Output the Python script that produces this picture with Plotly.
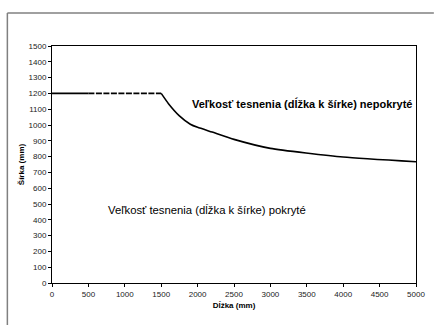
import plotly.graph_objects as go

# Seal size limits: length (mm) vs. width (mm)
flat_solid_x = [0, 500]
flat_solid_y = [1200, 1200]
flat_dash_x = [500, 1500]
flat_dash_y = [1200, 1200]
curve_x = [1500, 1600, 1750, 1900, 2000, 2200, 2500, 3000, 4000, 5000]
curve_y = [1200, 1135, 1058, 1005, 985, 955, 909, 852, 797, 767]

x_ticks = [0, 500, 1000, 1500, 2000, 2500, 3000, 3500, 4000, 4500, 5000]
y_ticks = list(range(0, 1501, 100))

label_uncovered = "Veľkosť tesnenia (dĺžka k šírke) nepokryté"
label_covered = "Veľkosť tesnenia (dĺžka k šírke) pokryté"
x_title = "Dĺžka (mm)"
y_title = "Šírka (mm)"

FONT = "Arial, Liberation Sans, sans-serif"

fig = go.Figure()
fig.add_trace(go.Scatter(x=flat_solid_x, y=flat_solid_y, mode="lines",
                         line=dict(color="black", width=1.6),
                         showlegend=False, hoverinfo="skip"))
fig.add_trace(go.Scatter(x=flat_dash_x, y=flat_dash_y, mode="lines",
                         line=dict(color="black", width=1.6, dash="6px,1.5px"),
                         showlegend=False, hoverinfo="skip"))
fig.add_trace(go.Scatter(x=curve_x, y=curve_y, mode="lines",
                         line=dict(color="black", width=1.6, shape="spline", smoothing=0.5),
                         showlegend=False, hoverinfo="skip"))

fig.add_annotation(x=3434, y=1135, text="<b>" + label_uncovered + "</b>",
                   showarrow=False, font=dict(family=FONT, size=11, color="black"),
                   xanchor="center", yanchor="middle")
fig.add_annotation(x=2135, y=461, text=label_covered,
                   showarrow=False, font=dict(family=FONT, size=11.3, color="black"),
                   xanchor="center", yanchor="middle")

axis_common = dict(
    showgrid=False, zeroline=False, showline=True, linecolor="black", linewidth=1,
    mirror=True, ticks="outside", ticklen=3, tickcolor="black", tickwidth=1,
    tickfont=dict(family=FONT, size=8, color="#222222"),
)

fig.update_xaxes(range=[0, 5000], tickvals=x_ticks, ticktext=[str(v) for v in x_ticks],
                 title=dict(text="<b>" + x_title + "</b>", font=dict(family=FONT, size=8, color="black"),
                            standoff=4),
                 **axis_common)
fig.update_yaxes(range=[0, 1500], tickvals=y_ticks, ticktext=[str(v) for v in y_ticks],
                 title=dict(text="<b>" + y_title + "</b>", font=dict(family=FONT, size=8, color="black"),
                            standoff=2),
                 **axis_common)

# Outer chart-area frame: only its top and left edges fall inside the page
plot_l, plot_r, plot_t, plot_b = 52, 419, 46, 283
pw, ph = plot_r - plot_l, plot_b - plot_t
fx0 = (7 - plot_l) / pw
fx1 = (437 - plot_l) / pw
fy_top = (plot_b - 13) / ph
fy_bot = (plot_b - 325) / ph
frame_line = dict(color="#808080", width=1.5)
fig.add_shape(type="line", xref="paper", yref="paper",
              x0=fx0, x1=fx1, y0=fy_top, y1=fy_top, line=frame_line, layer="below")
fig.add_shape(type="line", xref="paper", yref="paper",
              x0=fx0, x1=fx0, y0=fy_top, y1=fy_bot, line=frame_line, layer="below")

fig.update_layout(
    width=437, height=325,
    margin=dict(l=plot_l, r=437 - plot_r, t=plot_t, b=325 - plot_b, pad=0),
    paper_bgcolor="white", plot_bgcolor="white",
    font=dict(family=FONT),
    showlegend=False,
)

fig.write_html("out.html")
